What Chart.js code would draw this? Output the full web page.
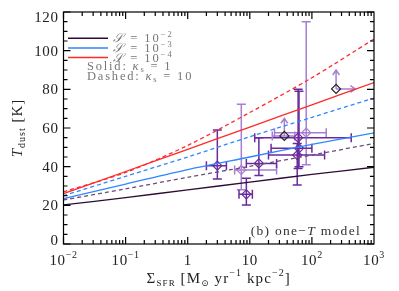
<!DOCTYPE html>
<html>
<head>
<meta charset="utf-8">
<script src="https://cdn.jsdelivr.net/npm/chart.js@4.4.1/dist/chart.umd.min.js"></script>
<style>
html, body { margin: 0; padding: 0; background: #fff; }
</style>
</head>
<body>
<canvas id="myChart" width="399" height="291"></canvas>
<script>
// model curves, sampled once per decade
const sfr_grid = [0.01, 0.1, 1, 10, 100, 1000]
const t_s2_k1 = [20.2, 24, 28, 32, 36, 39.7]
const t_s2_k10 = [22.8, 28.5, 34.5, 40.2, 46, 52]
const t_s3_k1 = [23.5, 31, 38.5, 45, 51.5, 57.5]
const t_s3_k10 = [25, 35, 45, 55.5, 65.5, 75.5]
const t_s4_k1 = [26, 37.5, 49, 60.5, 72, 83.5]
const t_s4_k10 = [27, 37, 51, 68, 86, 106]

// observed galaxies, darker error bars
const obs_sfr = [3.0, 8.8, 14, 60, 62, 58]
const obs_t = [40.5, 25.7, 41.7, 55, 49.5, 46]
const obs_sfr_lo = [2.0, 6.7, 8.8, 12, 22, 20]
const obs_sfr_hi = [4.2, 11, 27, 430, 100, 160]
const obs_t_lo = [33.6, 20.2, 35.4, 39, 40, 30.5]
const obs_t_hi = [59, 34, 55, 80, 79, 52]

// observed galaxies, lighter error bars
const obs2_sfr = [7.3, 81]
const obs2_t = [38.3, 57.6]
const obs2_sfr_lo = [5.7, 25]
const obs2_sfr_hi = [27, 170]
const obs2_t_lo = [28, 41]
const obs2_t_hi = [72.3, 115]

// lower limits
const lim_sfr = [36, 245]
const lim_t = [55.9, 80.2]
const lim_t_to = [65, 90]
const lim_sfr_to = [null, 500]
const lim_sfr_lo = [23, null]
const lim_sfr_hi = [53, null]

const x_tick_values = [0.01, 0.1, 1, 10, 100, 1000]
const x_tick_base = ['10', '10', '1', '10', '10', '10']
const x_tick_exp = ['\u22122', '\u22121', '', '', '2', '3']
const y_tick_values = [0, 20, 40, 60, 80, 100, 120]

const legend_labels = [['10', '\u22122'], ['10', '\u22123'], ['10', '\u22124']]

const SERIF = '"Liberation Serif", "DejaVu Serif", serif'
const C_DARK = '#2e0b33'
const C_PURP = '#6b4c7c'
const C_BLUE = '#2f86ff'
const C_RED = '#ff2b2b'
const C_ERR = '#6a2a9c'
const C_ERR2 = '#a57fd0'

function curve(ys){
    return sfr_grid.map((x, i) => ({x: x, y: ys[i]}))
}

function points(xs, ys){
    return xs.map((x, i) => ({x: x, y: ys[i]}))
}

function line_ds(ys, color, dashed){
    return {
        data: curve(ys),
        borderColor: color,
        borderWidth: 1.3,
        borderDash: dashed ? [4, 3] : [],
        pointRadius: 0,
        fill: false,
        tension: 0.3
    }
}

function point_ds(xs, ys, color){
    return {
        data: points(xs, ys),
        showLine: false,
        pointStyle: 'rectRot',
        pointRadius: 4.5,
        pointBorderWidth: 1.2,
        pointBorderColor: color,
        pointBackgroundColor: 'rgba(0,0,0,0)'
    }
}

// draw a row of text pieces, supporting sub/superscripts
function rich(ctx, parts, x, y, align, spacing){
    ctx.letterSpacing = (spacing || 0) + 'px'
    let total = 0
    for (const p of parts){
        ctx.font = (p.italic ? 'italic ' : '') + p.size + 'px ' + SERIF
        p.w = ctx.measureText(p.t).width
        total += p.w
    }
    let cx = align == 'center' ? x - total / 2 : (align == 'right' ? x - total : x)
    ctx.textAlign = 'left'
    ctx.textBaseline = 'alphabetic'
    for (const p of parts){
        ctx.font = (p.italic ? 'italic ' : '') + p.size + 'px ' + SERIF
        ctx.fillText(p.t, cx, y + (p.dy || 0))
        cx += p.w
    }
    ctx.letterSpacing = '0px'
}

function err_bars(ctx, xs_, ys_, xlo, xhi, ylo, yhi, color, xs, ys){
    ctx.strokeStyle = color
    ctx.lineWidth = 1.5
    const cap = 4.5
    for (let i = 0; i < xs_.length; i++){
        const px = xs.getPixelForValue(xs_[i])
        const py = ys.getPixelForValue(ys_[i])
        ctx.beginPath()
        if (ylo && ylo[i] != null){
            const a = ys.getPixelForValue(ylo[i]), b = ys.getPixelForValue(yhi[i])
            ctx.moveTo(px, a); ctx.lineTo(px, b)
            ctx.moveTo(px - cap, a); ctx.lineTo(px + cap, a)
            ctx.moveTo(px - cap, b); ctx.lineTo(px + cap, b)
        }
        if (xlo && xlo[i] != null){
            const a = xs.getPixelForValue(xlo[i]), b = xs.getPixelForValue(xhi[i])
            ctx.moveTo(a, py); ctx.lineTo(b, py)
            ctx.moveTo(a, py - cap); ctx.lineTo(a, py + cap)
            ctx.moveTo(b, py - cap); ctx.lineTo(b, py + cap)
        }
        ctx.stroke()
    }
}

function arrow(ctx, x0, y0, x1, y1){
    const ang = Math.atan2(y1 - y0, x1 - x0)
    const h = 6
    ctx.beginPath()
    ctx.moveTo(x0, y0); ctx.lineTo(x1, y1)
    ctx.moveTo(x1 - h * Math.cos(ang - 0.6), y1 - h * Math.sin(ang - 0.6))
    ctx.lineTo(x1, y1)
    ctx.lineTo(x1 - h * Math.cos(ang + 0.6), y1 - h * Math.sin(ang + 0.6))
    ctx.stroke()
}

const errorPlugin = {
    id: 'errorbars',
    beforeDatasetsDraw(chart){
        const ctx = chart.ctx
        const xs = chart.scales.x, ys = chart.scales.y
        ctx.save()
        err_bars(ctx, obs2_sfr, obs2_t, obs2_sfr_lo, obs2_sfr_hi, obs2_t_lo, obs2_t_hi, C_ERR2, xs, ys)
        err_bars(ctx, obs_sfr, obs_t, obs_sfr_lo, obs_sfr_hi, obs_t_lo, obs_t_hi, C_ERR, xs, ys)
        err_bars(ctx, lim_sfr, lim_t, lim_sfr_lo, lim_sfr_hi, null, null, C_ERR2, xs, ys)
        ctx.strokeStyle = C_ERR2
        ctx.lineWidth = 1.5
        for (let i = 0; i < lim_sfr.length; i++){
            const px = xs.getPixelForValue(lim_sfr[i])
            const py = ys.getPixelForValue(lim_t[i])
            arrow(ctx, px, py, px, ys.getPixelForValue(lim_t_to[i]))
            if (lim_sfr_to[i] != null){
                arrow(ctx, px, py, xs.getPixelForValue(lim_sfr_to[i]), py)
            }
        }
        ctx.restore()
    }
}

const framePlugin = {
    id: 'frame',
    afterDatasetsDraw(chart){
        const ctx = chart.ctx
        const xs = chart.scales.x, ys = chart.scales.y
        const a = chart.chartArea
        ctx.save()
        ctx.strokeStyle = '#000'
        ctx.lineWidth = 1.2
        ctx.strokeRect(a.left, a.top, a.right - a.left, a.bottom - a.top)

        ctx.beginPath()
        // x ticks, top and bottom, inward
        for (let d = -2; d <= 2; d++){
            for (let m = 1; m <= 9; m++){
                const v = m * Math.pow(10, d)
                const px = xs.getPixelForValue(v)
                const len = m == 1 ? 7 : 4
                ctx.moveTo(px, a.bottom); ctx.lineTo(px, a.bottom - len)
                ctx.moveTo(px, a.top); ctx.lineTo(px, a.top + len)
            }
        }
        // y ticks, left and right
        for (let v = 0; v <= 120; v += 5){
            const py = ys.getPixelForValue(v)
            const len = v % 20 == 0 ? 7 : 4
            ctx.moveTo(a.left, py); ctx.lineTo(a.left + len, py)
            ctx.moveTo(a.right, py); ctx.lineTo(a.right - len, py)
        }
        ctx.stroke()

        ctx.fillStyle = '#222'
        // y tick labels
        y_tick_values.forEach((v, i) => {
            let py = ys.getPixelForValue(v) + 5
            if (i == 0) py -= 4.5
            if (i == y_tick_values.length - 1) py += 4.5
            rich(ctx, [{t: String(v), size: 15}], a.left - 5, py, 'right', 0.6)
        })
        // x tick labels
        x_tick_values.forEach((v, i) => {
            const parts = [{t: x_tick_base[i], size: 15}]
            if (x_tick_exp[i]) parts.push({t: x_tick_exp[i], size: 10, dy: -7})
            rich(ctx, parts, xs.getPixelForValue(v), 265, 'center', 0.6)
        })
        // x title
        rich(ctx, [
            {t: '\u03a3', size: 15},
            {t: 'SFR', size: 9, dy: 3},
            {t: ' [M', size: 15},
            {t: '\u2299', size: 9, dy: 3},
            {t: ' yr', size: 15},
            {t: '\u22121', size: 10, dy: -7},
            {t: ' kpc', size: 15},
            {t: '\u22122', size: 10, dy: -7},
            {t: ']', size: 15}
        ], (a.left + a.right) / 2, 283, 'center', 1.1)
        // y title
        ctx.save()
        ctx.translate(22, (a.top + a.bottom) / 2)
        ctx.rotate(-Math.PI / 2)
        rich(ctx, [
            {t: 'T', size: 15, italic: true},
            {t: 'dust', size: 10, dy: 3},
            {t: ' [K]', size: 15}
        ], 0, 0, 'center', 1)
        ctx.restore()

        // legend
        const leg_colors = [C_DARK, C_BLUE, C_RED]
        const leg_y = [38.3, 48, 57.5]
        ctx.lineWidth = 1.5
        leg_colors.forEach((c, i) => {
            ctx.strokeStyle = c
            ctx.beginPath()
            ctx.moveTo(68, leg_y[i]); ctx.lineTo(108, leg_y[i])
            ctx.stroke()
            ctx.fillStyle = '#777'
            rich(ctx, [
                {t: '\ud835\udcae', size: 12.5, italic: true},
                {t: ' = ', size: 12.5},
                {t: legend_labels[i][0], size: 12.5},
                {t: legend_labels[i][1], size: 8.5, dy: -5}
            ], 113, leg_y[i] + 4, 'left', 2)
        })
        ctx.fillStyle = '#777'
        rich(ctx, [{t: 'Solid: ', size: 12.5}, {t: '\u03ba', size: 12.5, italic: true}, {t: 's', size: 8.5, dy: 2}, {t: ' = 1', size: 12.5}], 87, 70, 'left', 1.8)
        rich(ctx, [{t: 'Dashed: ', size: 12.5}, {t: '\u03ba', size: 12.5, italic: true}, {t: 's', size: 8.5, dy: 2}, {t: ' = 10', size: 12.5}], 87, 79.5, 'left', 1.8)

        // panel note
        ctx.fillStyle = '#333'
        rich(ctx, [{t: '(b) one\u2212', size: 13.5}, {t: 'T', size: 13.5, italic: true}, {t: ' model', size: 13.5}], a.right - 13, 235, 'right', 1.3)
        ctx.restore()
    }
}

const ctx = document.getElementById('myChart')
const config = {
    type: 'line',
    data: {
        datasets: [
            line_ds(t_s2_k1, C_DARK, false),
            line_ds(t_s2_k10, C_PURP, true),
            line_ds(t_s3_k1, C_BLUE, false),
            line_ds(t_s3_k10, C_BLUE, true),
            line_ds(t_s4_k1, C_RED, false),
            line_ds(t_s4_k10, C_RED, true),
            point_ds(obs_sfr, obs_t, C_ERR),
            point_ds(obs2_sfr, obs2_t, C_ERR2),
            point_ds(lim_sfr, lim_t, '#222')
        ]
    },
    options: {
        responsive: false,
        animation: false,
        devicePixelRatio: 1,
        layout: {padding: {left: 63.5, right: 25, top: 12, bottom: 47}},
        plugins: {legend: {display: false}, tooltip: {enabled: false}},
        scales: {
            x: {type: 'logarithmic', min: 0.01, max: 1000, display: false},
            y: {type: 'linear', min: 0, max: 120, display: false}
        }
    },
    plugins: [errorPlugin, framePlugin]
}
const mychart = new Chart(ctx, config)
</script>
</body>
</html>
